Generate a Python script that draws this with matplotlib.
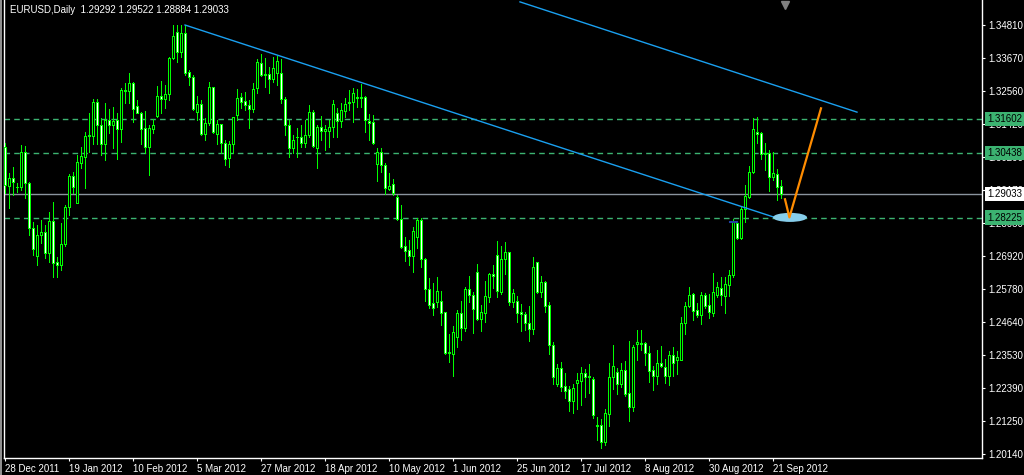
import matplotlib
matplotlib.use('Agg')
import matplotlib.pyplot as plt
import matplotlib.transforms as mtransforms
from matplotlib.patches import Ellipse, Rectangle

plt.rcParams['font.family'] = ['Liberation Sans', 'DejaVu Sans']

# ---------------- data (EURUSD daily) ----------------
opens = [1.3063, 1.2932, 1.2957, 1.2926, 1.2926, 1.3046, 1.2940, 1.2786, 1.2692, 1.2762,
         1.2773, 1.2700, 1.2811, 1.2670, 1.2660, 1.2732, 1.2857, 1.2966, 1.2871, 1.3010,
         1.3031, 1.3101, 1.3103, 1.3218, 1.3138, 1.3075, 1.3156, 1.3138, 1.3156, 1.3127,
         1.3259, 1.3254, 1.3281, 1.3204, 1.3179, 1.3128, 1.3063, 1.3126, 1.3171, 1.3238,
         1.3229, 1.3244, 1.3367, 1.3456, 1.3390, 1.3453, 1.3319, 1.3304, 1.3185, 1.3211,
         1.3107, 1.3145, 1.3268, 1.3107, 1.3141, 1.3076, 1.3025, 1.3073, 1.3173, 1.3234,
         1.3221, 1.3206, 1.3193, 1.3264, 1.3350, 1.3311, 1.3312, 1.3295, 1.3316, 1.3316,
         1.3227, 1.3138, 1.3059, 1.3097, 1.3099, 1.3076, 1.3105, 1.3182, 1.3059, 1.3133,
         1.3119, 1.3119, 1.3131, 1.3179, 1.3154, 1.3188, 1.3213, 1.3217, 1.3236, 1.3230,
         1.3234, 1.3153, 1.3149, 1.3004, 1.3046, 1.3001, 1.2921, 1.2937, 1.2894, 1.2816,
         1.2725, 1.2711, 1.2692, 1.2757, 1.2814, 1.2680, 1.2577, 1.2529, 1.2535, 1.2537,
         1.2498, 1.2360, 1.2357, 1.2413, 1.2495, 1.2446, 1.2577, 1.2557, 1.2635, 1.2477,
         1.2495, 1.2550, 1.2628, 1.2693, 1.2569, 1.2680, 1.2705, 1.2535, 1.2536, 1.2498,
         1.2491, 1.2463, 1.2440, 1.2672, 1.2567, 1.2601, 1.2522, 1.2386, 1.2254, 1.2308,
         1.2245, 1.2235, 1.2196, 1.2258, 1.2265, 1.2290, 1.2282, 1.2270, 1.2113, 1.2113,
         1.2056, 1.2151, 1.2276, 1.2293, 1.2253, 1.2301, 1.2221, 1.2176, 1.2390, 1.2395,
         1.2392, 1.2358, 1.2301, 1.2281, 1.2324, 1.2313, 1.2281, 1.2351, 1.2335, 1.2335,
         1.2463, 1.2520, 1.2561, 1.2506, 1.2489, 1.2556, 1.2523, 1.2497, 1.2558, 1.2583,
         1.2554, 1.2592, 1.2626, 1.2803, 1.2751, 1.2851, 1.2894, 1.2979, 1.3114, 1.3110,
         1.3040, 1.3042, 1.2962, 1.2971, 1.29292]
highs = [1.3076, 1.2974, 1.2996, 1.2940, 1.3071, 1.3067, 1.2945, 1.2808, 1.2797, 1.2814,
         1.2797, 1.2843, 1.2877, 1.2686, 1.2805, 1.2865, 1.2971, 1.2979, 1.3036, 1.3063,
         1.3116, 1.3181, 1.3229, 1.3227, 1.3162, 1.3213, 1.3193, 1.3199, 1.3179, 1.3264,
         1.3284, 1.3318, 1.3287, 1.3225, 1.3185, 1.3188, 1.3139, 1.3158, 1.3272, 1.3290,
         1.3276, 1.3373, 1.3481, 1.3480, 1.3480, 1.3481, 1.3327, 1.3310, 1.3238, 1.3225,
         1.3162, 1.3287, 1.3270, 1.3156, 1.3142, 1.3088, 1.3085, 1.3168, 1.3262, 1.3247,
         1.3253, 1.3225, 1.3282, 1.3364, 1.3382, 1.3367, 1.3339, 1.3370, 1.3375, 1.3364,
         1.3234, 1.3156, 1.3105, 1.3128, 1.3139, 1.3156, 1.3207, 1.3190, 1.3139, 1.3170,
         1.3139, 1.3156, 1.3224, 1.3196, 1.3213, 1.3230, 1.3259, 1.3264, 1.3261, 1.3279,
         1.3238, 1.3177, 1.3173, 1.3059, 1.3059, 1.3008, 1.2974, 1.2953, 1.2900, 1.2865,
         1.2757, 1.2746, 1.2791, 1.2820, 1.2820, 1.2683, 1.2617, 1.2600, 1.2620, 1.2571,
         1.2498, 1.2424, 1.2452, 1.2506, 1.2538, 1.2584, 1.2623, 1.2569, 1.2664, 1.2523,
         1.2606, 1.2632, 1.2660, 1.2742, 1.2725, 1.2739, 1.2706, 1.2578, 1.2554, 1.2527,
         1.2501, 1.2520, 1.2686, 1.2672, 1.2623, 1.2606, 1.2535, 1.2397, 1.2322, 1.2330,
         1.2290, 1.2246, 1.2253, 1.2290, 1.2313, 1.2303, 1.2322, 1.2278, 1.2142, 1.2132,
         1.2167, 1.2324, 1.2387, 1.2307, 1.2324, 1.2333, 1.2400, 1.2387, 1.2438, 1.2438,
         1.2398, 1.2383, 1.2315, 1.2370, 1.2383, 1.2338, 1.2367, 1.2381, 1.2367, 1.2481,
         1.2535, 1.2584, 1.2563, 1.2529, 1.2569, 1.2566, 1.2560, 1.2632, 1.2603, 1.2620,
         1.2620, 1.2643, 1.2816, 1.2808, 1.2862, 1.2934, 1.2999, 1.3162, 1.3165, 1.3116,
         1.3079, 1.3054, 1.3045, 1.2987, 1.29522]
lows = [1.2905, 1.2854, 1.2900, 1.2911, 1.2917, 1.2891, 1.2763, 1.2694, 1.2660, 1.2737,
        1.2683, 1.2672, 1.2618, 1.2620, 1.2643, 1.2725, 1.2831, 1.2905, 1.2871, 1.2991,
        1.2925, 1.3048, 1.3074, 1.3074, 1.3036, 1.3019, 1.3111, 1.3059, 1.3022, 1.3082,
        1.3215, 1.3213, 1.3150, 1.3179, 1.3074, 1.3042, 1.2968, 1.3111, 1.3168, 1.3181,
        1.3196, 1.3225, 1.3364, 1.3356, 1.3373, 1.3310, 1.3276, 1.3190, 1.3156, 1.3105,
        1.3088, 1.3139, 1.3111, 1.3074, 1.3044, 1.3002, 1.2996, 1.3044, 1.3156, 1.3196,
        1.3190, 1.3130, 1.3185, 1.3247, 1.3307, 1.3270, 1.3247, 1.3287, 1.3276, 1.3213,
        1.3105, 1.3031, 1.3042, 1.3028, 1.3065, 1.3065, 1.3099, 1.3065, 1.2991, 1.3088,
        1.3053, 1.3065, 1.3099, 1.3099, 1.3133, 1.3167, 1.3190, 1.3150, 1.3202, 1.3202,
        1.3116, 1.3088, 1.3074, 1.2949, 1.2979, 1.2903, 1.2917, 1.2900, 1.2814, 1.2717,
        1.2675, 1.2660, 1.2637, 1.2717, 1.2652, 1.2538, 1.2512, 1.2489, 1.2518, 1.2455,
        1.2356, 1.2330, 1.2282, 1.2381, 1.2404, 1.2436, 1.2535, 1.2429, 1.2472, 1.2436,
        1.2466, 1.2535, 1.2580, 1.2552, 1.2561, 1.2629, 1.2523, 1.2518, 1.2466, 1.2436,
        1.2438, 1.2401, 1.2424, 1.2563, 1.2552, 1.2501, 1.2356, 1.2253, 1.2246, 1.2229,
        1.2207, 1.2161, 1.2155, 1.2168, 1.2181, 1.2210, 1.2221, 1.2138, 1.2062, 1.2033,
        1.2045, 1.2110, 1.2235, 1.2219, 1.2244, 1.2212, 1.2128, 1.2161, 1.2335, 1.2370,
        1.2318, 1.2259, 1.2233, 1.2253, 1.2312, 1.2258, 1.2250, 1.2281, 1.2288, 1.2335,
        1.2424, 1.2515, 1.2472, 1.2484, 1.2458, 1.2512, 1.2478, 1.2486, 1.2552, 1.2523,
        1.2497, 1.2554, 1.2620, 1.2748, 1.2748, 1.2808, 1.2888, 1.2974, 1.3076, 1.3022,
        1.2985, 1.2914, 1.2951, 1.2882, 1.28884]
closes = [1.2934, 1.2957, 1.2945, 1.2927, 1.3046, 1.2940, 1.2786, 1.2714, 1.2763, 1.2773,
          1.2700, 1.2811, 1.2668, 1.2660, 1.2732, 1.2857, 1.2966, 1.2928, 1.3013, 1.3033,
          1.3101, 1.3105, 1.3218, 1.3138, 1.3075, 1.3156, 1.3138, 1.3153, 1.3124, 1.3259,
          1.3254, 1.3281, 1.3193, 1.3181, 1.3124, 1.3063, 1.3128, 1.3138, 1.3238, 1.3229,
          1.3245, 1.3367, 1.3443, 1.3390, 1.3453, 1.3318, 1.3304, 1.3193, 1.3211, 1.3107,
          1.3145, 1.3268, 1.3114, 1.3141, 1.3076, 1.3023, 1.3074, 1.3165, 1.3230, 1.3219,
          1.3206, 1.3193, 1.3261, 1.3353, 1.3311, 1.3315, 1.3295, 1.3333, 1.3357, 1.3227,
          1.3138, 1.3059, 1.3088, 1.3099, 1.3076, 1.3105, 1.3182, 1.3068, 1.3133, 1.3120,
          1.3124, 1.3131, 1.3211, 1.3154, 1.3190, 1.3211, 1.3219, 1.3247, 1.3231, 1.3236,
          1.3156, 1.3147, 1.3076, 1.3046, 1.3002, 1.2922, 1.2930, 1.2908, 1.2816, 1.2723,
          1.2709, 1.2692, 1.2777, 1.2814, 1.2680, 1.2577, 1.2523, 1.2512, 1.2571, 1.2497,
          1.2360, 1.2363, 1.2430, 1.2495, 1.2446, 1.2578, 1.2557, 1.2509, 1.2477, 1.2498,
          1.2553, 1.2628, 1.2624, 1.2570, 1.2680, 1.2705, 1.2535, 1.2563, 1.2497, 1.2491,
          1.2463, 1.2440, 1.2652, 1.2569, 1.2601, 1.2521, 1.2386, 1.2278, 1.2308, 1.2244,
          1.2230, 1.2196, 1.2238, 1.2267, 1.2290, 1.2278, 1.2276, 1.2147, 1.2111, 1.2056,
          1.2153, 1.2276, 1.2315, 1.2253, 1.2301, 1.2219, 1.2176, 1.2379, 1.2396, 1.2390,
          1.2360, 1.2299, 1.2281, 1.2324, 1.2315, 1.2281, 1.2351, 1.2324, 1.2346, 1.2463,
          1.2520, 1.2556, 1.2504, 1.2489, 1.2556, 1.2520, 1.2501, 1.2567, 1.2586, 1.2558,
          1.2594, 1.2625, 1.2812, 1.2751, 1.2851, 1.2896, 1.2979, 1.3124, 1.3109, 1.3040,
          1.3042, 1.2962, 1.2974, 1.2926, 1.29033]

date_labels = ['28 Dec 2011', '19 Jan 2012', '10 Feb 2012', '5 Mar 2012', '27 Mar 2012',
               '18 Apr 2012', '10 May 2012', '1 Jun 2012', '25 Jun 2012', '17 Jul 2012',
               '8 Aug 2012', '30 Aug 2012', '21 Sep 2012']
date_bars = [0, 16, 32, 48, 64, 80, 96, 112, 128, 144, 160, 176, 192]

price_ticks = [1.34810, 1.33670, 1.32560, 1.31420, 1.30290, 1.29170, 1.28030,
               1.26920, 1.25780, 1.24640, 1.23530, 1.22390, 1.21250, 1.20140]
level_lines = [1.31602, 1.30438, 1.28225]
bid_price = 1.29033
header_text = 'EURUSD,Daily  1.29292 1.29522 1.28884 1.29033'

trend1_bars = [45, 194]
trend1_prices = [1.3481, 1.2816]
trend2_bars = [128.75, 213]
trend2_prices = [1.3560, 1.3183]
proj_bars = [195, 196.1, 204]
proj_prices = [1.2885, 1.2823, 1.3196]
target_bar, target_price = 196.25, 1.2823
marker_bars = [181.3, 183.1]
marker_prices = [1.2806, 1.2806]

# ---------------- drawing ----------------
GREEN = '#00ff00'
W, H = 1024, 475
PX = 0.72  # one pixel in points
fig = plt.figure(figsize=(W / 100, H / 100), dpi=100, facecolor='black')
ax = fig.add_axes([4 / W, 17 / H, 978 / W, 458 / H])
ax.set_facecolor('black')
ax.set_xlim(-0.25, 244.25)
ax.set_ylim(1.20001, 1.35665)

for side in ('left', 'bottom', 'right'):
    ax.spines[side].set_color('white')
    ax.spines[side].set_linewidth(1.0)
ax.spines['top'].set_visible(False)

# horizontal levels
for lv in level_lines:
    ax.axhline(lv, color='#3CB371', lw=1.0, ls=(0, (4, 3)), zorder=2)
ax.axhline(bid_price, color='#8A949E', lw=1.0, zorder=2)

# candles: wick, body fill, body outline (one pixel = 0.25 bar)
x = list(range(len(opens)))
tops = [max(o, c) for o, c in zip(opens, closes)]
bots = [min(o, c) for o, c in zip(opens, closes)]
ax.vlines(x, lows, highs, color=GREEN, lw=PX, antialiased=False, zorder=3)
fills = ['black' if c >= o else 'white' for o, c in zip(opens, closes)]
ax.vlines(x, bots, tops, colors=fills, lw=PX, antialiased=False, zorder=4)
xl = [v - 0.25 for v in x]
xr = [v + 0.25 for v in x]
ax.vlines(xl, bots, tops, color=GREEN, lw=PX, antialiased=False, zorder=5)
ax.vlines(xr, bots, tops, color=GREEN, lw=PX, antialiased=False, zorder=5)
ax.hlines(tops, xl, xr, color=GREEN, lw=PX, antialiased=False, zorder=5)
ax.hlines(bots, xl, xr, color=GREEN, lw=PX, antialiased=False, zorder=5)

# objects
ax.plot(trend1_bars, trend1_prices, color='#1AA0F0', lw=1.0, zorder=6)
ax.plot(trend2_bars, trend2_prices, color='#1AA0F0', lw=1.0, zorder=6)
ax.add_patch(Ellipse((target_bar, target_price), 8.5, 0.0031, fc='#87CEEB', ec='none', zorder=6))
ax.plot(proj_bars, proj_prices, color='#FF8C00', lw=1.6, zorder=7)
ax.plot(marker_bars, marker_prices, color='#2040A0', lw=1.5, zorder=7)

# chart-shift marker
blend = mtransforms.blended_transform_factory(ax.transData, ax.transAxes)
ax.plot([len(opens)], [0.99], marker='v', color='#808080', ms=6, transform=blend, clip_on=False)

# y axis on right
ax.yaxis.tick_right()
ax.set_yticks(price_ticks)
ax.set_yticklabels(['%.5f' % p for p in price_ticks])
ax.tick_params(axis='y', colors='white', length=2.5, width=0.8, labelsize=7, pad=2)

ax.set_xticks(date_bars)
ax.set_xticklabels(date_labels, ha='left')
ax.tick_params(axis='x', colors='white', length=2.5, width=0.8, labelsize=7, pad=2)

yblend = mtransforms.blended_transform_factory(ax.transAxes, ax.transData)
for lv in level_lines:
    ax.text(1.0052, lv, '%.5f' % lv, transform=yblend, ha='left', va='center', fontsize=7,
            color='black', clip_on=False, zorder=10,
            bbox=dict(boxstyle='square,pad=0.22', fc='#3CB371', ec='none'))
ax.text(1.0052, bid_price, '%.5f' % bid_price, transform=yblend, ha='left', va='center',
        fontsize=7, color='black', clip_on=False, zorder=10,
        bbox=dict(boxstyle='square,pad=0.22', fc='white', ec='none'))

fig.text(10 / W, 1 - 10 / H, header_text, color='white', fontsize=7, ha='left', va='center')
fig.patches.append(Rectangle((0, 0), 2 / W, 1, transform=fig.transFigure, fc='#909090', ec='none'))

fig.savefig('out.png', dpi=100, facecolor='black')
